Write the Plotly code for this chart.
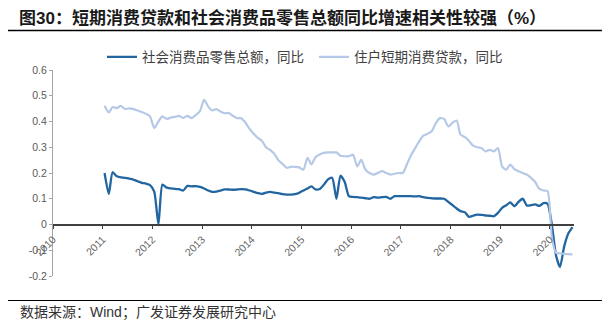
import plotly.graph_objects as go

# Monthly observations, Jan 2011 – Jun 2020 (year-on-year growth, as fractions)
months = [f"{2011 + m // 12}-{m % 12 + 1:02d}-15" for m in range(114)]

retail_sales_yoy = [
    0.200, 0.119, 0.203, 0.187, 0.183, 0.181, 0.178, 0.174, 0.168, 0.162, 0.159, 0.153,
    0.128, 0.000, 0.155, 0.143, 0.140, 0.138, 0.137, 0.132, 0.150, 0.148, 0.149, 0.146,
    0.140, 0.132, 0.127, 0.128, 0.132, 0.136, 0.136, 0.135, 0.136, 0.137, 0.136, 0.132,
    0.127, 0.122, 0.119, 0.124, 0.127, 0.124, 0.122, 0.118, 0.116, 0.116, 0.118, 0.123,
    0.132, 0.140, 0.148, 0.136, 0.138, 0.155, 0.175, 0.181, 0.100, 0.190, 0.165, 0.110,
    0.107, 0.106, 0.104, 0.102, 0.100, 0.106, 0.104, 0.106, 0.107, 0.100, 0.110, 0.110,
    0.110, 0.110, 0.110, 0.109, 0.110, 0.106, 0.103, 0.102, 0.101, 0.101, 0.100, 0.088,
    0.075, 0.062, 0.052, 0.048, 0.030, 0.034, 0.038, 0.037, 0.035, 0.034, 0.032, 0.045,
    0.065, 0.075, 0.086, 0.071, 0.088, 0.100, 0.074, 0.075, 0.078, 0.072, 0.083, 0.080,
    0.000, -0.120, -0.165, -0.085, -0.035, -0.010,
]

consumer_loan_yoy = [
    0.461, 0.435, 0.456, 0.452, 0.461, 0.448, 0.451, 0.448, 0.443, 0.437, 0.430, 0.420,
    0.375, 0.400, 0.420, 0.410, 0.415, 0.418, 0.422, 0.414, 0.422, 0.413, 0.425, 0.439,
    0.484, 0.458, 0.443, 0.448, 0.439, 0.432, 0.433, 0.422, 0.413, 0.413, 0.396, 0.372,
    0.352, 0.336, 0.326, 0.300, 0.290, 0.275, 0.250, 0.235, 0.220, 0.224, 0.224, 0.222,
    0.213, 0.259, 0.233, 0.262, 0.272, 0.278, 0.280, 0.280, 0.280, 0.267, 0.265, 0.265,
    0.271, 0.226, 0.252, 0.213, 0.200, 0.194, 0.200, 0.207, 0.200, 0.194, 0.197, 0.200,
    0.200, 0.235, 0.268, 0.296, 0.323, 0.345, 0.352, 0.362, 0.394, 0.413, 0.410, 0.381,
    0.395, 0.404, 0.349, 0.340, 0.325, 0.306, 0.300, 0.297, 0.284, 0.290, 0.284, 0.297,
    0.225, 0.213, 0.233, 0.215, 0.207, 0.200, 0.194, 0.181, 0.165, 0.138, 0.132, 0.130,
    -0.050, -0.110, -0.112, -0.114, -0.115, -0.116,
]

series_names = ["社会消费品零售总额，同比", "住户短期消费贷款，同比"]
y_ticks = [0.6, 0.5, 0.4, 0.3, 0.2, 0.1, 0, -0.1, -0.2]

title_text = "<b>图30：短期消费贷款和社会消费品零售总额同比增速相关性较强（%）</b>"
source_text = "数据来源：Wind；广发证券发展研究中心"

W, H = 610, 326
L, R, T, B = 53, 36, 70, 50
PW, PH = W - L - R, H - T - B


def px_x(x):
    return (x - L) / PW


def px_y(y):
    return (H - B - y) / PH


CJK = "Liberation Sans, Noto Sans CJK SC, sans-serif"

fig = go.Figure()
fig.add_trace(go.Scatter(
    x=months, y=retail_sales_yoy, name=series_names[0], mode="lines",
    line=dict(color="#2166a1", width=2.3, shape="spline", smoothing=0.6),
))
fig.add_trace(go.Scatter(
    x=months, y=consumer_loan_yoy, name=series_names[1], mode="lines",
    line=dict(color="#b5c9e6", width=2.2, shape="spline", smoothing=0.6),
))

fig.update_layout(
    width=W, height=H,
    margin=dict(l=L, r=R, t=T, b=B, pad=0),
    paper_bgcolor="white", plot_bgcolor="white",
    font=dict(family=CJK, color="#595959", size=11),
    showlegend=True,
    legend=dict(
        orientation="h", x=px_x(102), xanchor="left", y=px_y(57), yanchor="middle",
        font=dict(size=13.5, color="#404040", family="Noto Sans CJK SC"),
        entrywidth=167, entrywidthmode="pixels",
        bgcolor="rgba(0,0,0,0)", borderwidth=0, itemwidth=30,
        tracegroupgap=0,
    ),
    xaxis=dict(
        type="date", range=["2010-01-01", "2020-06-26"],
        tick0="2010-01-01", dtick="M12", tickformat="%Y",
        anchor="free", position=0.25,
        showline=True, linecolor="#404040", linewidth=1.5,
        ticks="outside", ticklen=4, tickcolor="#404040", tickwidth=1,
        tickangle=-45, tickfont=dict(size=10.5, color="#666666", family="Liberation Sans"),
        showgrid=False, zeroline=False,
    ),
    yaxis=dict(
        range=[-0.2, 0.6], tickvals=y_ticks, ticktext=[f"{v:g}" for v in y_ticks],
        showline=True, linecolor="#a6a6a6", linewidth=1,
        ticks="outside", ticklen=3, tickcolor="#a6a6a6",
        tickfont=dict(size=10.5, color="#595959", family="Liberation Sans"),
        showgrid=False, zeroline=False,
    ),
)

# Title, rules and source note
fig.add_annotation(
    text=title_text, xref="paper", yref="paper", x=px_x(17), y=px_y(18),
    xanchor="left", yanchor="middle", showarrow=False,
    font=dict(size=17, color="#1a1a1a", family=CJK),
)
fig.add_shape(type="line", xref="paper", yref="paper",
              x0=px_x(8), x1=px_x(602), y0=px_y(30.5), y1=px_y(30.5),
              line=dict(color="#000000", width=1.5))
fig.add_shape(type="line", xref="paper", yref="paper",
              x0=px_x(8), x1=px_x(602), y0=px_y(300.5), y1=px_y(300.5),
              line=dict(color="#000000", width=1.2))
fig.add_annotation(
    text=source_text, xref="paper", yref="paper", x=px_x(18), y=px_y(312),
    xanchor="left", yanchor="middle", showarrow=False,
    font=dict(size=14, color="#333333", family=CJK),
)

fig.write_html("out.html")
